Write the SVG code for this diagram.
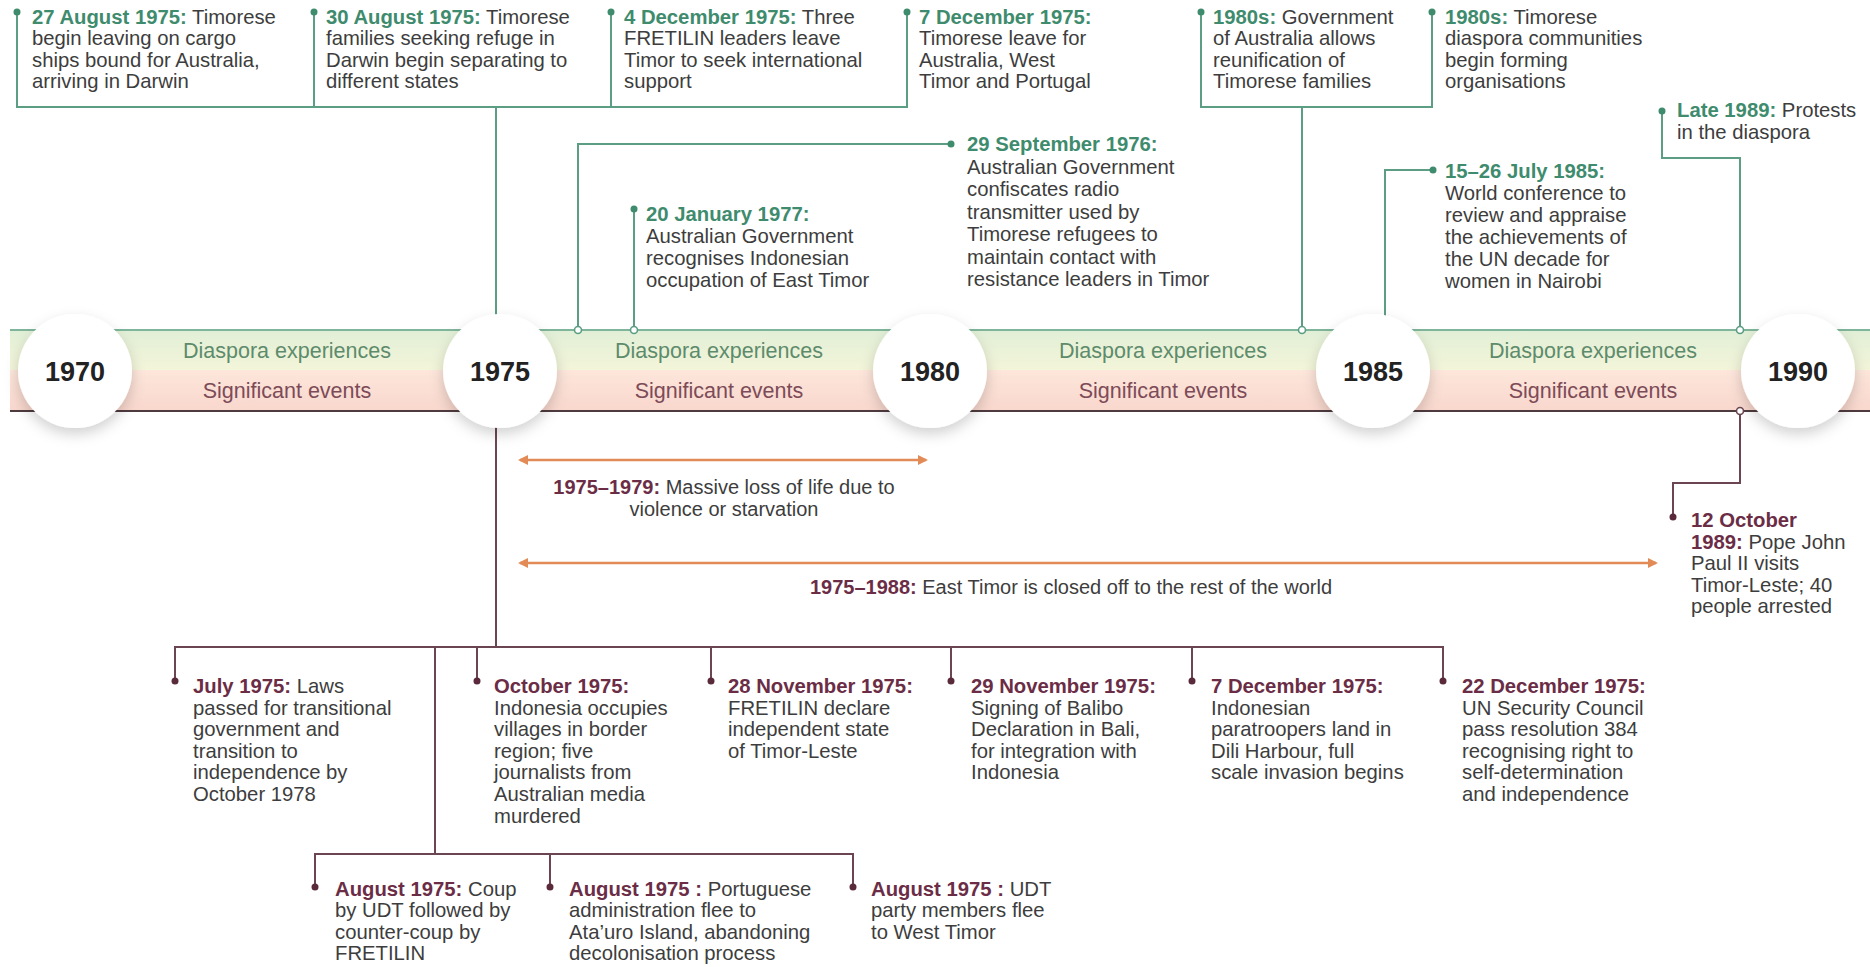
<svg xmlns="http://www.w3.org/2000/svg" width="1870" height="967" viewBox="0 0 1870 967">
<style>
.t{font-family:"Liberation Sans",Arial,sans-serif;font-size:20.3px;fill:#3d3d3d}
.g{fill:#3e8b6d;font-weight:bold}
.m{fill:#6b2d46;font-weight:bold}
.gl{fill:none;stroke:#5b9e84;stroke-width:2}
.ml{fill:none;stroke:#6b4652;stroke-width:2}
.gd{fill:#3e8b6d}
.md{fill:#5a2a3c}
.go{fill:#fff;stroke:#5b9e84;stroke-width:1.6}
.mo{fill:#fff;stroke:#6b4652;stroke-width:1.6}
.yr{font-family:"Liberation Sans",Arial,sans-serif;font-size:27px;font-weight:bold;fill:#222;text-anchor:middle}
.lg{font-family:"Liberation Sans",Arial,sans-serif;font-size:21.5px;fill:#5d8b6c;text-anchor:middle}
.lm{font-family:"Liberation Sans",Arial,sans-serif;font-size:21.5px;fill:#7d4b58;text-anchor:middle}
.ar{stroke:#e38b57;stroke-width:2.5;fill:none;marker-start:url(#ah);marker-end:url(#ah)}
.c{font-family:"Liberation Sans",Arial,sans-serif;font-size:20px;fill:#3d3d3d;text-anchor:middle}
</style>
<defs>
<linearGradient id="gtop" x1="0" y1="0" x2="0" y2="1"><stop offset="0" stop-color="#e1efd7"/><stop offset="1" stop-color="#f3f5d9"/></linearGradient>
<linearGradient id="gbot" x1="0" y1="0" x2="0" y2="1"><stop offset="0" stop-color="#fde6db"/><stop offset="1" stop-color="#f9d7cd"/></linearGradient>
<filter id="sh" x="-40%" y="-40%" width="180%" height="190%"><feDropShadow dx="0" dy="6" stdDeviation="7" flood-color="#000" flood-opacity="0.18"/></filter>
<marker id="ah" viewBox="0 0 10 10" refX="8" refY="5" markerWidth="4" markerHeight="4" orient="auto-start-reverse" markerUnits="strokeWidth"><path d="M0,0 L10,5 L0,10 z" fill="#e38b57"/></marker>
</defs>
<rect width="1870" height="967" fill="#fff"/>

<g id="band">
<rect x="10" y="330" width="1860" height="40" fill="url(#gtop)"/>
<rect x="10" y="370" width="1860" height="41" fill="url(#gbot)"/>
<line x1="10" y1="330" x2="1870" y2="330" stroke="#7fb59a" stroke-width="2"/>
<line x1="10" y1="411" x2="1870" y2="411" stroke="#4e3b40" stroke-width="2"/>
<text class="lg" x="287" y="358">Diaspora experiences</text>
<text class="lm" x="287" y="398">Significant events</text>
<text class="lg" x="719" y="358">Diaspora experiences</text>
<text class="lm" x="719" y="398">Significant events</text>
<text class="lg" x="1163" y="358">Diaspora experiences</text>
<text class="lm" x="1163" y="398">Significant events</text>
<text class="lg" x="1593" y="358">Diaspora experiences</text>
<text class="lm" x="1593" y="398">Significant events</text>
</g>

<g id="connectors">
<path class="gl" d="M17,12 V107 H907 V12 M314,12 V107 M611,12 V107 M496,107 V330"/>
<path class="gl" d="M1201,12 V107 H1432 V12 M1302,107 V330"/>
<path class="gl" d="M951,144 H578 V330"/>
<path class="gl" d="M634,209 V330"/>
<path class="gl" d="M1433,170 H1385 V325"/>
<path class="gl" d="M1662,111 V158 H1740 V330"/>
<path class="ml" d="M1740,411 V483 H1673 V517"/>
<path class="ml" d="M496,411 V647 M175,681 V647 H1443 V681 M477,647 V681 M711,647 V681 M951,647 V681 M1192,647 V681 M435,647 V854 M315,887 V854 H853 V887 M550,854 V887"/>
<line class="ar" x1="520" y1="460" x2="926" y2="460"/>
<line class="ar" x1="520" y1="563" x2="1656" y2="563"/>
<g id="dots">
<circle class="gd" cx="17" cy="12" r="3.5"/><circle class="gd" cx="314" cy="12" r="3.5"/><circle class="gd" cx="611" cy="12" r="3.5"/><circle class="gd" cx="907" cy="12" r="3.5"/>
<circle class="gd" cx="1201" cy="12" r="3.5"/><circle class="gd" cx="1432" cy="12" r="3.5"/>
<circle class="gd" cx="951" cy="144" r="3.5"/><circle class="gd" cx="634" cy="209" r="3.5"/><circle class="gd" cx="1433" cy="170" r="3.5"/><circle class="gd" cx="1662" cy="111" r="3.5"/>
<circle class="go" cx="1302" cy="330" r="3.5"/><circle class="go" cx="578" cy="330" r="3.5"/><circle class="go" cx="634" cy="330" r="3.5"/><circle class="go" cx="1740" cy="330" r="3.5"/>
<circle class="mo" cx="1740" cy="411" r="3.5"/>
<circle class="md" cx="1673" cy="517" r="3.5"/>
<circle class="md" cx="175" cy="681" r="3.5"/><circle class="md" cx="477" cy="681" r="3.5"/><circle class="md" cx="711" cy="681" r="3.5"/><circle class="md" cx="951" cy="681" r="3.5"/><circle class="md" cx="1192" cy="681" r="3.5"/><circle class="md" cx="1443" cy="681" r="3.5"/>
<circle class="md" cx="315" cy="887" r="3.5"/><circle class="md" cx="550" cy="887" r="3.5"/><circle class="md" cx="853" cy="887" r="3.5"/>
</g>
</g>

<g id="years">
<g id="y1970"><circle cx="75" cy="371" r="57" fill="#fff" filter="url(#sh)"/><text class="yr" x="75" y="381">1970</text></g>
<g id="y1975"><circle cx="500" cy="371" r="57" fill="#fff" filter="url(#sh)"/><text class="yr" x="500" y="381">1975</text></g>
<g id="y1980"><circle cx="930" cy="371" r="57" fill="#fff" filter="url(#sh)"/><text class="yr" x="930" y="381">1980</text></g>
<g id="y1985"><circle cx="1373" cy="371" r="57" fill="#fff" filter="url(#sh)"/><text class="yr" x="1373" y="381">1985</text></g>
<g id="y1990"><circle cx="1798" cy="371" r="57" fill="#fff" filter="url(#sh)"/><text class="yr" x="1798" y="381">1990</text></g>
</g>

<g id="n-27aug"><text class="t" x="32" y="23.5"><tspan class="g">27 August 1975:</tspan> Timorese<tspan x="32" dy="21.5">begin leaving on cargo</tspan><tspan x="32" dy="21.5">ships bound for Australia,</tspan><tspan x="32" dy="21.5">arriving in Darwin</tspan></text></g>
<g id="n-30aug"><text class="t" x="326" y="23.5"><tspan class="g">30 August 1975:</tspan> Timorese<tspan x="326" dy="21.5">families seeking refuge in</tspan><tspan x="326" dy="21.5">Darwin begin separating to</tspan><tspan x="326" dy="21.5">different states</tspan></text></g>
<g id="n-4dec"><text class="t" x="624" y="23.5"><tspan class="g">4 December 1975:</tspan> Three<tspan x="624" dy="21.5">FRETILIN leaders leave</tspan><tspan x="624" dy="21.5">Timor to seek international</tspan><tspan x="624" dy="21.5">support</tspan></text></g>
<g id="n-7dec-d"><text class="t" x="919" y="23.5"><tspan class="g">7 December 1975:</tspan><tspan x="919" dy="21.5">Timorese leave for</tspan><tspan x="919" dy="21.5">Australia, West</tspan><tspan x="919" dy="21.5">Timor and Portugal</tspan></text></g>
<g id="n-1980s-a"><text class="t" x="1213" y="23.5"><tspan class="g">1980s:</tspan> Government<tspan x="1213" dy="21.5">of Australia allows</tspan><tspan x="1213" dy="21.5">reunification of</tspan><tspan x="1213" dy="21.5">Timorese families</tspan></text></g>
<g id="n-1980s-b"><text class="t" x="1445" y="23.5"><tspan class="g">1980s:</tspan> Timorese<tspan x="1445" dy="21.5">diaspora communities</tspan><tspan x="1445" dy="21.5">begin forming</tspan><tspan x="1445" dy="21.5">organisations</tspan></text></g>
<g id="n-late1989"><text class="t" x="1677" y="117"><tspan class="g">Late 1989:</tspan> Protests<tspan x="1677" dy="22">in the diaspora</tspan></text></g>
<g id="n-29sep"><text class="t" x="967" y="151"><tspan class="g">29 September 1976:</tspan><tspan x="967" dy="22.5">Australian Government</tspan><tspan x="967" dy="22.5">confiscates radio</tspan><tspan x="967" dy="22.5">transmitter used by</tspan><tspan x="967" dy="22.5">Timorese refugees to</tspan><tspan x="967" dy="22.5">maintain contact with</tspan><tspan x="967" dy="22.5">resistance leaders in Timor</tspan></text></g>
<g id="n-20jan"><text class="t" x="646" y="221"><tspan class="g">20 January 1977:</tspan><tspan x="646" dy="22">Australian Government</tspan><tspan x="646" dy="22">recognises Indonesian</tspan><tspan x="646" dy="22">occupation of East Timor</tspan></text></g>
<g id="n-july1985"><text class="t" x="1445" y="178"><tspan class="g">15–26 July 1985:</tspan><tspan x="1445" dy="22">World conference to</tspan><tspan x="1445" dy="22">review and appraise</tspan><tspan x="1445" dy="22">the achievements of</tspan><tspan x="1445" dy="22">the UN decade for</tspan><tspan x="1445" dy="22">women in Nairobi</tspan></text></g>

<g id="n-1975-1979"><text class="c" x="724" y="494"><tspan class="m">1975–1979:</tspan> Massive loss of life due to<tspan x="724" dy="21.5">violence or starvation</tspan></text></g>
<g id="n-1975-1988"><text class="c" x="1071" y="594"><tspan class="m">1975–1988:</tspan> East Timor is closed off to the rest of the world</text></g>
<g id="n-12oct"><text class="t" x="1691" y="527"><tspan class="m">12 October</tspan><tspan x="1691" dy="21.5" class="m">1989:</tspan> Pope John<tspan x="1691" dy="21.5">Paul II visits</tspan><tspan x="1691" dy="21.5">Timor-Leste; 40</tspan><tspan x="1691" dy="21.5">people arrested</tspan></text></g>

<g id="n-july1975"><text class="t" x="193" y="693"><tspan class="m">July 1975:</tspan> Laws<tspan x="193" dy="21.6">passed for transitional</tspan><tspan x="193" dy="21.6">government and</tspan><tspan x="193" dy="21.6">transition to</tspan><tspan x="193" dy="21.6">independence by</tspan><tspan x="193" dy="21.6">October 1978</tspan></text></g>
<g id="n-oct1975"><text class="t" x="494" y="693"><tspan class="m">October 1975:</tspan><tspan x="494" dy="21.6">Indonesia occupies</tspan><tspan x="494" dy="21.6">villages in border</tspan><tspan x="494" dy="21.6">region; five</tspan><tspan x="494" dy="21.6">journalists from</tspan><tspan x="494" dy="21.6">Australian media</tspan><tspan x="494" dy="21.6">murdered</tspan></text></g>
<g id="n-28nov"><text class="t" x="728" y="693"><tspan class="m">28 November 1975:</tspan><tspan x="728" dy="21.6">FRETILIN declare</tspan><tspan x="728" dy="21.6">independent state</tspan><tspan x="728" dy="21.6">of Timor-Leste</tspan></text></g>
<g id="n-29nov"><text class="t" x="971" y="693"><tspan class="m">29 November 1975:</tspan><tspan x="971" dy="21.6">Signing of Balibo</tspan><tspan x="971" dy="21.6">Declaration in Bali,</tspan><tspan x="971" dy="21.6">for integration with</tspan><tspan x="971" dy="21.6">Indonesia</tspan></text></g>
<g id="n-7dec-e"><text class="t" x="1211" y="693"><tspan class="m">7 December 1975:</tspan><tspan x="1211" dy="21.6">Indonesian</tspan><tspan x="1211" dy="21.6">paratroopers land in</tspan><tspan x="1211" dy="21.6">Dili Harbour, full</tspan><tspan x="1211" dy="21.6">scale invasion begins</tspan></text></g>
<g id="n-22dec"><text class="t" x="1462" y="693"><tspan class="m">22 December 1975:</tspan><tspan x="1462" dy="21.6">UN Security Council</tspan><tspan x="1462" dy="21.6">pass resolution 384</tspan><tspan x="1462" dy="21.6">recognising right to</tspan><tspan x="1462" dy="21.6">self-determination</tspan><tspan x="1462" dy="21.6">and independence</tspan></text></g>
<g id="n-aug-coup"><text class="t" x="335" y="896"><tspan class="m">August 1975:</tspan> Coup<tspan x="335" dy="21.3">by UDT followed by</tspan><tspan x="335" dy="21.3">counter-coup by</tspan><tspan x="335" dy="21.3">FRETILIN</tspan></text></g>
<g id="n-aug-port"><text class="t" x="569" y="896"><tspan class="m">August 1975 :</tspan> Portuguese<tspan x="569" dy="21.3">administration flee to</tspan><tspan x="569" dy="21.3">Ata’uro Island, abandoning</tspan><tspan x="569" dy="21.3">decolonisation process</tspan></text></g>
<g id="n-aug-udt"><text class="t" x="871" y="896"><tspan class="m">August 1975 :</tspan> UDT<tspan x="871" dy="21.3">party members flee</tspan><tspan x="871" dy="21.3">to West Timor</tspan></text></g>
</svg>
